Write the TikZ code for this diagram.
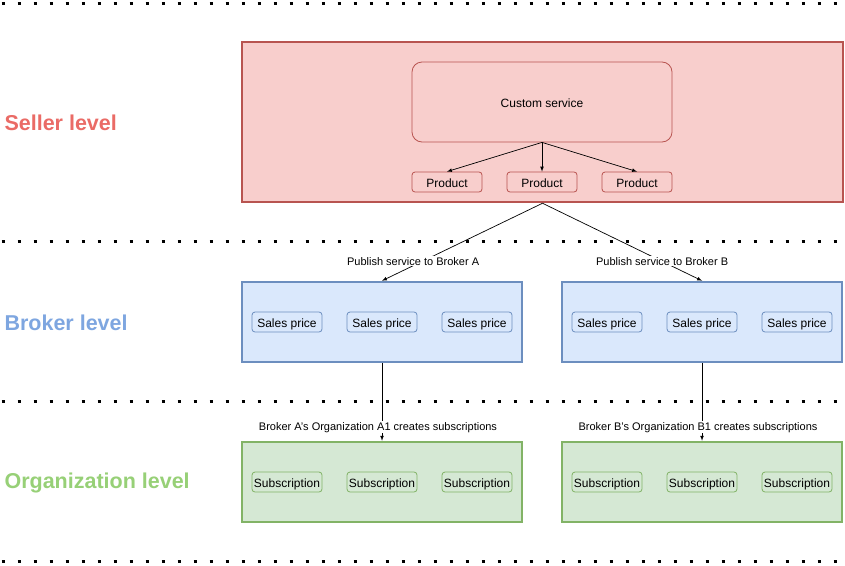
\documentclass[tikz,border=0pt]{standalone}
\usepackage{fontspec}
\setmainfont{Liberation Sans}
\usetikzlibrary{arrows,positioning}

\definecolor{sellerline}{HTML}{B85450}
\definecolor{sellerfill}{HTML}{F8CECC}
\definecolor{brokerline}{HTML}{6C8EBF}
\definecolor{brokerfill}{HTML}{DAE8FC}
\definecolor{orgline}{HTML}{82B366}
\definecolor{orgfill}{HTML}{D5E8D4}
\definecolor{sellertext}{HTML}{EA6B66}
\definecolor{brokertext}{HTML}{7EA6E0}
\definecolor{orgtext}{HTML}{97D077}

\tikzset{
  item/.style={draw=#1line, fill=#1fill, rounded corners=3pt, line width=0.8pt, minimum width=70pt, minimum height=20pt, inner sep=0pt, text height=10pt, text depth=0pt, font=\fontsize{12}{14}\selectfont},
  levellabel/.style={anchor=west, font=\fontsize{21.5}{26}\selectfont\bfseries, text=#1text},
  sep/.style={line width=3pt, dash pattern=on 3pt off 13pt},
  conn/.style={-latex, line width=0.7pt},
  tag/.style={fill=white, inner sep=1pt, font=\fontsize{11}{13}\selectfont}
}

\begin{document}
\begin{tikzpicture}[x=1pt, y=-1pt]
    \useasboundingbox (0,0) rectangle (845,565);

    % separators
    \draw[sep] (1.5,3) -- (845,3);
    \draw[sep] (1.5,241) -- (845,241);
    \draw[sep] (1.5,401) -- (845,401);
    \draw[sep] (1.5,561) -- (845,561);

    % level labels
    \node[levellabel=seller] (sl) at (1,123) {Seller level};
    \node[levellabel=broker] (bl) at (1,323) {Broker level};
    \node[levellabel=org] (ol) at (1,483) {Organization level};

    % seller level
    \node[draw=sellerline, fill=sellerfill, line width=2.5pt, minimum width=601pt, minimum height=160pt] (seller) at (542.5,122) {};
    \node[item=seller, minimum width=260pt, minimum height=80pt, rounded corners=10pt] (cs) at (542,102) {Custom service};
    \node[item=seller] (p1) at (447,182) {Product};
    \node[item=seller] (p2) at (542,182) {Product};
    \node[item=seller] (p3) at (637,182) {Product};

    \draw[conn] (cs.south) -- (p1.north);
    \draw[conn] (cs.south) -- (p2.north);
    \draw[conn] (cs.south) -- (p3.north);

    % broker level
    \node[draw=brokerline, fill=brokerfill, line width=2.5pt, minimum width=280pt, minimum height=80pt] (ba) at (382,322) {};
    \node[draw=brokerline, fill=brokerfill, line width=2.5pt, minimum width=280pt, minimum height=80pt] (bb) at (702,322) {};
    \node[item=broker] (sa1) at (287,322) {Sales price};
    \node[item=broker] (sa2) at (382,322) {Sales price};
    \node[item=broker] (sa3) at (477,322) {Sales price};
    \node[item=broker] (sb1) at (607,322) {Sales price};
    \node[item=broker] (sb2) at (702,322) {Sales price};
    \node[item=broker] (sb3) at (797,322) {Sales price};

    \draw[conn] (seller.south) -- node[tag, pos=0.75, xshift=-9pt] {Publish service to Broker A} (ba.north);
    \draw[conn] (seller.south) -- node[tag, pos=0.75] {Publish service to Broker B} (bb.north);

    % organization level
    \node[draw=orgline, fill=orgfill, line width=2.5pt, minimum width=280pt, minimum height=80pt] (oa) at (382,482) {};
    \node[draw=orgline, fill=orgfill, line width=2.5pt, minimum width=280pt, minimum height=80pt] (ob) at (702,482) {};
    \node[item=org] (ua1) at (287,482) {Subscription};
    \node[item=org] (ua2) at (382,482) {Subscription};
    \node[item=org] (ua3) at (477,482) {Subscription};
    \node[item=org] (ub1) at (607,482) {Subscription};
    \node[item=org] (ub2) at (702,482) {Subscription};
    \node[item=org] (ub3) at (797,482) {Subscription};

    \draw[conn] (ba.south) -- node[tag, pos=0.8, xshift=-4pt, yshift=-2pt] {Broker A's Organization A1 creates subscriptions} (oa.north);
    \draw[conn] (bb.south) -- node[tag, pos=0.8, xshift=-4pt, yshift=-2pt] {Broker B's Organization B1 creates subscriptions} (ob.north);
\end{tikzpicture}
\end{document}
